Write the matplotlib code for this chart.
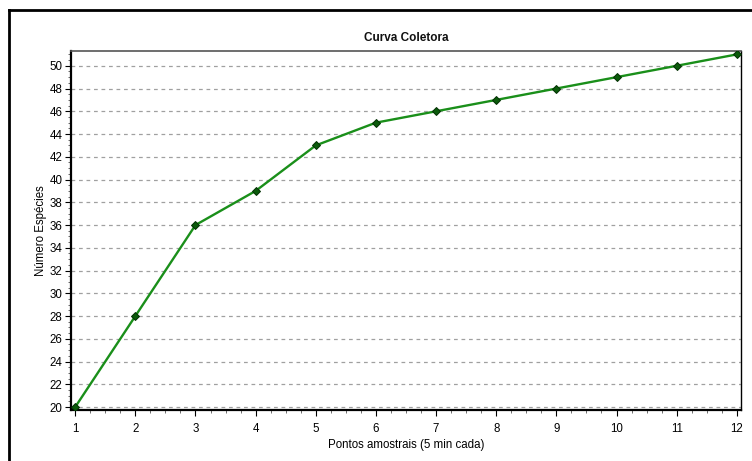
import matplotlib
matplotlib.use('Agg')
import matplotlib.pyplot as plt
from matplotlib.ticker import MultipleLocator
from matplotlib.lines import Line2D

plt.rcParams['font.family'] = ['Liberation Sans', 'DejaVu Sans']

# pontos amostrais e número acumulado de espécies
pontos = [1, 2, 3, 4, 5, 6, 7, 8, 9, 10, 11, 12]
especies = [20, 28, 36, 39, 43, 45, 46, 47, 48, 49, 50, 51]

fig = plt.figure(figsize=(7.52, 4.61), dpi=100)
ax = fig.add_axes([71 / 752, 51 / 461, 670 / 752, 359 / 461])

# moldura externa (esquerda e topo)
W, H = 752, 461
fig.add_artist(Line2D([8.5 / W, 8.5 / W], [0, 1 - 10.5 / H], color='black', lw=2, transform=fig.transFigure))
fig.add_artist(Line2D([8.5 / W, 1], [1 - 10.5 / H, 1 - 10.5 / H], color='black', lw=2, transform=fig.transFigure))

ax.plot(pontos, especies, color='#1a8f1a', linewidth=1.7, marker='D', markersize=3.6,
        markerfacecolor='#0b5a0b', markeredgecolor='#033003', markeredgewidth=0.7, zorder=3)

ax.set_xlim(0.93, 12.07)
ax.set_ylim(19.74, 51.3)
ax.xaxis.set_major_locator(MultipleLocator(1))
ax.xaxis.set_minor_locator(MultipleLocator(0.25))
ax.yaxis.set_major_locator(MultipleLocator(2))
ax.yaxis.set_minor_locator(MultipleLocator(0.5))
ax.tick_params(which='major', length=4, width=0.8, labelsize=8.3)
ax.tick_params(axis='x', which='major', pad=5)
ax.tick_params(axis='y', which='major', pad=2)
ax.tick_params(which='minor', length=2, width=0.6, color='#555555')

ax.grid(axis='y', which='major', color='#a0a0a0', linestyle=(0, (3, 3)), linewidth=0.9)
ax.set_axisbelow(True)

ax.spines['left'].set_linewidth(1.6)
ax.spines['bottom'].set_linewidth(1.6)
ax.spines['top'].set_color('#555555')
ax.spines['top'].set_linewidth(1.2)
ax.spines['right'].set_linewidth(1.0)

ax.set_title('Curva Coletora', fontsize=8.5, fontweight='semibold', color='#111111', pad=7)
ax.set_xlabel('Pontos amostrais (5 min cada)', fontsize=8.3, labelpad=3)
ax.set_ylabel('Número Espécies', fontsize=8.3, labelpad=2)

fig.savefig('out.png', dpi=100)
plt.close(fig)
